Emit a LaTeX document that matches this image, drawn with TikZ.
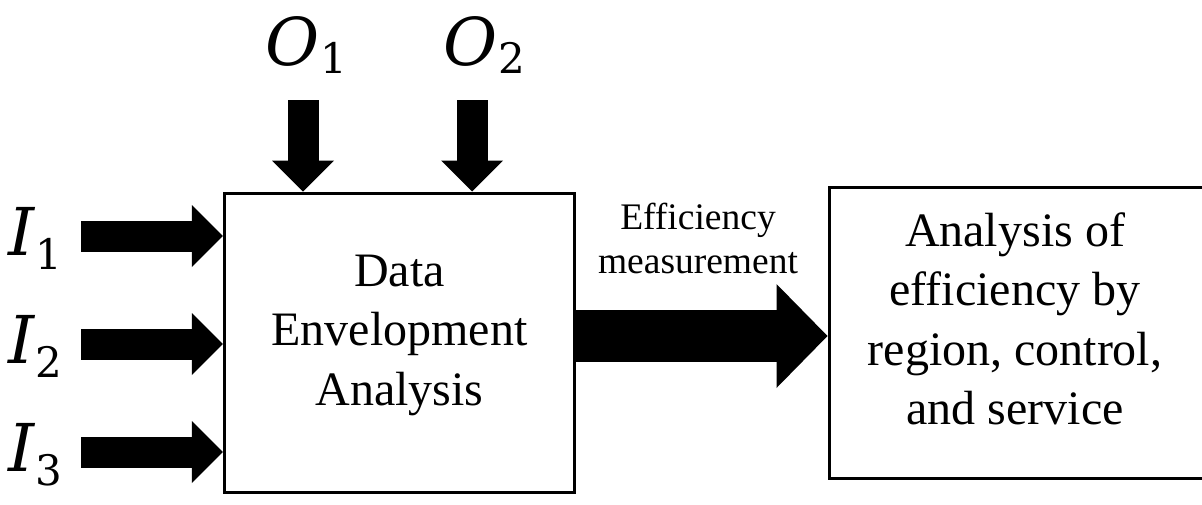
\documentclass[tikz,border=0pt]{standalone}
\usepackage{fontspec}
\setmainfont{Liberation Serif}
\newfontfamily\symfont{DejaVu Serif}
\usetikzlibrary{arrows.meta}

% label with an italic letter and a lowered upright index
\newcommand{\varlabel}[3]{{\itshape #1}\kern1pt\raisebox{-#3pt}{\fontsize{42}{42}\selectfont #2}}

\tikzset{
  block/.style={draw, line width=3pt, inner sep=0pt},
  blocktext/.style={align=center, inner sep=0pt, font=\fontsize{48}{59.5}\selectfont},
  flowtext/.style={align=center, inner sep=0pt, font=\fontsize{37.5}{44}\selectfont},
  symlabel/.style={anchor=base west, inner sep=0pt, font=\symfont\fontsize{66}{66}\selectfont},
  feedarrow/.style={line width=31pt, -{Triangle[length=31pt, width=62pt, line width=0pt]}},
  mainarrow/.style={line width=52pt, -{Triangle[length=51pt, width=104pt, line width=0pt]}},
}

\begin{document}
\begin{tikzpicture}[x=1pt, y=-1pt]
  \useasboundingbox (0,0) rectangle (1202,504);

  % blocks
  \node[block, minimum width=350.4pt, minimum height=299pt] (dea) at (399.5,342.5) {};
  \node[blocktext] (deatext) at (399.5,335) {Data\\Envelopment\\Analysis};

  \node[block, minimum width=375.5pt, minimum height=291pt] (result) at (1016.75,332.5) {};
  \node[blocktext] (resulttext) at (1015,319) {Analysis of\\efficiency by\\region, control,\\and service};

  % output labels and arrows
  \node[symlabel] (o1) at (265,65) {\varlabel{O}{1}{8}};
  \node[symlabel] (o2) at (443,65) {\varlabel{O}{2}{8}};
  \coordinate (o1s) at (303,100);
  \coordinate (o2s) at (472,100);
  \draw[feedarrow] (o1s) -- (o1s |- dea.north);
  \draw[feedarrow] (o2s) -- (o2s |- dea.north);

  % input labels and arrows
  \node[symlabel] (i1) at (8,255) {\varlabel{I}{1}{14}};
  \node[symlabel] (i2) at (8,363) {\varlabel{I}{2}{14}};
  \node[symlabel] (i3) at (8,471) {\varlabel{I}{3}{14}};
  \coordinate (i1s) at (81,236);
  \coordinate (i2s) at (81,344);
  \coordinate (i3s) at (81,452);
  \draw[feedarrow] (i1s) -- (i1s -| dea.west);
  \draw[feedarrow] (i2s) -- (i2s -| dea.west);
  \draw[feedarrow] (i3s) -- (i3s -| dea.west);

  % efficiency measurement flow
  \coordinate (flow) at (700,336);
  \draw[mainarrow] (flow -| dea.east) -- (flow -| result.west);
  \node[flowtext] (flowtext) at (698,238) {Efficiency\\measurement};
\end{tikzpicture}
\end{document}
